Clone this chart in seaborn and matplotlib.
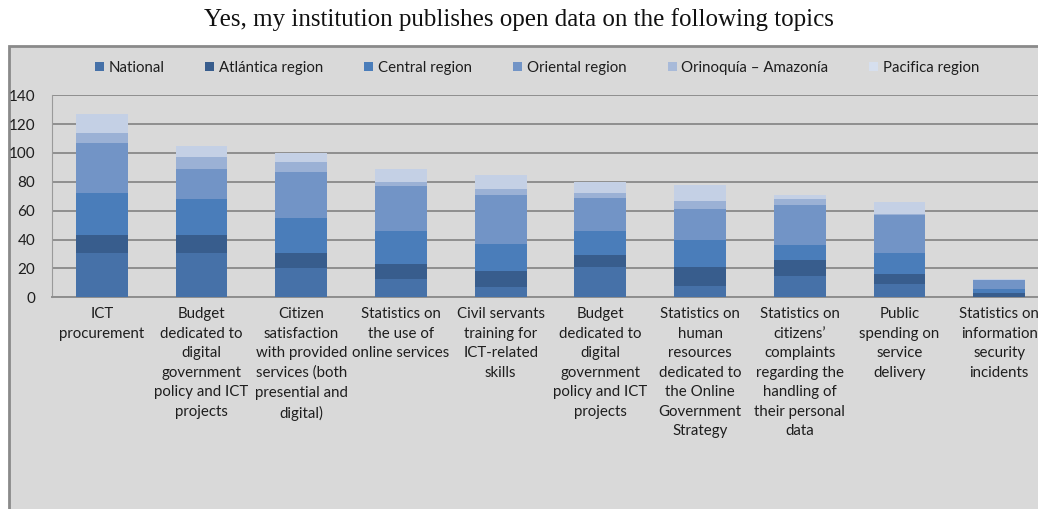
import numpy as np
import pandas as pd
import matplotlib
matplotlib.use("Agg")
import matplotlib.pyplot as plt
from matplotlib.patches import Patch, Rectangle
import seaborn as sns

# Topics (x categories), as wrapped for display
categories = [
    "ICT\nprocurement",
    "Budget\ndedicated to\ndigital\ngovernment\npolicy and ICT\nprojects",
    "Citizen\nsatisfaction\nwith provided\nservices (both\npresential and\ndigital)",
    "Statistics on\nthe use of\nonline services",
    "Civil servants\ntraining for\nICT-related\nskills",
    "Budget\ndedicated to\ndigital\ngovernment\npolicy and ICT\nprojects",
    "Statistics on\nhuman\nresources\ndedicated to\nthe Online\nGovernment\nStrategy",
    "Statistics on\ncitizens’\ncomplaints\nregarding the\nhandling of\ntheir personal\ndata",
    "Public\nspending on\nservice\ndelivery",
    "Statistics on\ninformation\nsecurity\nincidents",
]

# Counts per region, one list per stacked series
national  = [31, 31, 20, 13,  7, 21,  8, 15,  9, 0]
atlantica = [12, 12, 11, 10, 11,  8, 13, 11,  7, 3]
central   = [29, 25, 24, 23, 19, 17, 19, 10, 15, 3]
oriental  = [35, 21, 32, 31, 34, 23, 21, 28, 26, 6]
orinoquia = [ 7,  8,  7,  3,  4,  3,  6,  4,  1, 0]
pacifica  = [13,  8,  6,  9, 10,  8, 11,  3,  8, 1]

series_names = ["National", "Atlántica region", "Central region",
                "Oriental region", "Orinoquía – Amazonía", "Pacifica region"]
series_values = [national, atlantica, central, oriental, orinoquia, pacifica]
colors = ["#4671A8", "#385D8D", "#4A7DBA", "#7294C6", "#9BB1D5", "#C4D0E5"]
legend_colors = ["#4671A8", "#385D8D", "#4A7DBA", "#7294C6", "#A8BAD9", "#D6DFEE"]

yticks = [0, 20, 40, 60, 80, 100, 120, 140]

sns.set_theme(style="white")
plt.rcParams["font.family"] = ["Lato", "DejaVu Sans"]

W, H = 1038, 509
fig = plt.figure(figsize=(W / 100, H / 100), dpi=100, facecolor="white")

# Grey chart panel with border
panel = Rectangle((9 / W, -0.05), 1.1, (H - 46) / H + 0.05, transform=fig.transFigure,
                  facecolor="#D9D9D9", edgecolor="#8A8A8A", linewidth=2.0, zorder=-5)
fig.patches.append(panel)

fig.text(519 / W, 1 - 20 / H, "Yes, my institution publishes open data on the following topics",
         ha="center", va="center", fontsize=18, family="Liberation Serif", color="#111111")

left, right = 52 / W, 1049 / W
bottom, top = (H - 297.3) / H, (H - 95.2) / H
ax = fig.add_axes([left, bottom, right - left, top - bottom])
ax.set_zorder(2)
ax.set_facecolor("#D9D9D9")

df = pd.DataFrame({"pos": np.arange(len(categories))})
cum = np.zeros(len(categories))
for name, vals, c in zip(series_names, series_values, colors):
    df["val"] = vals
    sns.barplot(data=df, x="pos", y="val", bottom=cum.copy(), color=c, width=0.52,
                saturation=1, ax=ax, zorder=3, linewidth=0, errorbar=None)
    cum += np.array(vals)

ax.set_ylim(0, 140)
ax.set_xlim(-0.5, len(categories) - 0.5)
ax.set_yticks(yticks)
ax.yaxis.grid(True, color="#8E8E8E", linewidth=1.4)
ax.set_axisbelow(True)
ax.set_xlabel("")
ax.set_ylabel("")

for s in ["top", "right"]:
    ax.spines[s].set_visible(False)
ax.spines["bottom"].set_color("#8E8E8E")
ax.spines["bottom"].set_linewidth(1.4)
ax.spines["left"].set_color("#9A9A9A")
ax.spines["left"].set_linewidth(0.8)

ax.set_xticks(np.arange(len(categories)))
ax.set_xticklabels(categories, fontsize=10.8, color="#1E1E1E", linespacing=1.5)
ax.set_xticks(np.arange(len(categories) - 1) + 0.5, minor=True)
ax.tick_params(axis="x", which="major", length=0, pad=7)
ax.tick_params(axis="x", which="minor", direction="in", length=5, width=1, color="#8E8E8E")
ax.tick_params(axis="y", length=0, pad=12, labelsize=11, labelcolor="#1E1E1E")

handles = [Patch(facecolor=c, edgecolor="none", label=n) for n, c in zip(series_names, legend_colors)]
fig.legend(handles=handles, loc="center", bbox_to_anchor=(537 / W, 1 - 68 / H), ncol=6,
           frameon=False, fontsize=10.8, handlelength=0.6, handleheight=0.6,
           handletextpad=0.3, columnspacing=2.75, labelcolor="#1E1E1E")

fig.savefig("out.png", dpi=100, facecolor="white")
